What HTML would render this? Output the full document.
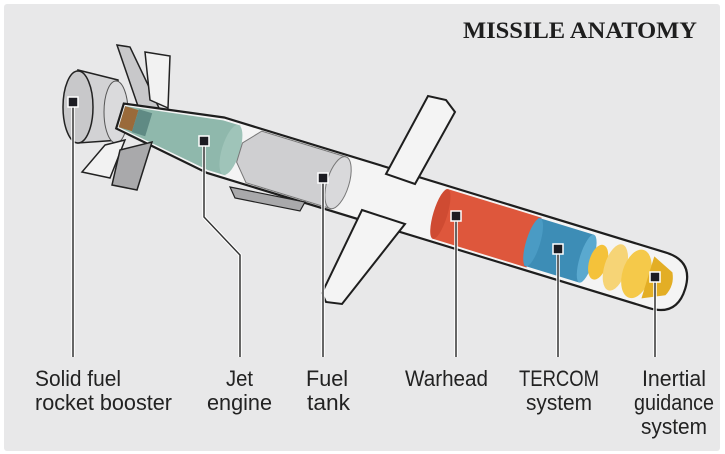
<!DOCTYPE html>
<html><head><meta charset="utf-8"><style>
html,body{margin:0;padding:0;background:#fff;}
svg{display:block;}
</style></head><body>
<svg width="725" height="454" viewBox="0 0 725 454" xmlns="http://www.w3.org/2000/svg">
<rect x="0" y="0" width="725" height="454" fill="#fff"/>
<rect x="4" y="4" width="716" height="447" rx="3" fill="#e8e8e9"/>
<text x="463" y="38" font-family="Liberation Serif, serif" font-weight="bold" font-size="23" fill="#1e1e1e" textLength="234" lengthAdjust="spacingAndGlyphs">MISSILE ANATOMY</text>

<!-- booster -->
<path d="M78,70 L118,80 L120,140 L78,143 Z" fill="#d2d2d4" stroke="#222" stroke-width="1.5"/>
<ellipse cx="78" cy="107" rx="15" ry="36" fill="#c8c8ca" stroke="#222" stroke-width="1.5"/>
<ellipse cx="116" cy="112" rx="12" ry="31" fill="#dadadc" stroke="#555" stroke-width="1"/>

<!-- top fins -->
<polygon points="117,45 130,47 160,110 140,112" fill="#c8c8ca" stroke="#222" stroke-width="1.5"/>
<polygon points="145,52 170,56 168,108 150,100" fill="#f2f2f2" stroke="#222" stroke-width="1.5"/>

<!-- body -->
<g transform="translate(120,116) rotate(17)">
  <path d="M0,-13 L100,-29 L562,-29 Q591,-29 591,0 Q591,29 562,29 L100,29 L0,13 Z" fill="#f4f4f4"/>
  <!-- jet engine -->
  <path d="M2,-11 L100,-26 L118,-26 L118,26 L100,26 L2,11 Z" fill="#8fb8ac"/>
  <ellipse cx="116" cy="0" rx="9" ry="26" fill="#9fc4b9"/>
  <rect x="2" y="-11" width="14" height="22" fill="#9a6a3a"/>
  <rect x="16" y="-12" width="14" height="24" fill="#5f8a84"/>
  <!-- fuel tank -->
  <path d="M125,-10 L140,-27 L228,-27 L228,27 L140,27 L125,10 Z" fill="#cfcfd1" stroke="#777" stroke-width="1"/>
  <ellipse cx="228" cy="0" rx="11" ry="27" fill="#d9d9db" stroke="#777" stroke-width="1"/>
  <!-- warhead -->
  <rect x="335" y="-26" width="98" height="52" fill="#de573c"/>
  <ellipse cx="335" cy="0" rx="7" ry="26" fill="#cf4b32"/>
  <!-- tercom -->
  <rect x="430" y="-25" width="58" height="50" fill="#3d8db6"/>
  <ellipse cx="432" cy="0" rx="7" ry="25" fill="#4a9bc4"/>
  <ellipse cx="488" cy="0" rx="7" ry="25" fill="#5aa9cf"/>
  <!-- guidance -->
  <ellipse cx="500" cy="0" rx="9" ry="18" fill="#f4c23a"/>
  <ellipse cx="518" cy="0" rx="11" ry="24" fill="#f6d476"/>
  <ellipse cx="540" cy="0" rx="14" ry="25" fill="#f5c94a"/>
  <path d="M552,-22 L574,-12 Q580,0 574,12 L552,22 Z" fill="#e3ae25"/>
  <path d="M0,-13 L100,-29 L562,-29 Q591,-29 591,0 Q591,29 562,29 L100,29 L0,13 Z" fill="none" stroke="#1e1e1e" stroke-width="2.2"/>
</g>

<!-- ventral scoop -->
<polygon points="230,187 305,202 300,211 235,198" fill="#a9a9ab" stroke="#222" stroke-width="1.2"/>
<!-- bottom fins -->
<polygon points="105,145 125,140 110,178 82,172" fill="#f2f2f2" stroke="#222" stroke-width="1.5"/>
<polygon points="120,150 152,142 137,190 112,185" fill="#a9a9ab" stroke="#222" stroke-width="1.5"/>

<!-- wings -->
<polygon points="386,174 428,96 446,100 455,112 415,184" fill="#f4f4f4" stroke="#1e1e1e" stroke-width="2"/>
<polygon points="362,210 405,224 342,304 326,302 322,293" fill="#f4f4f4" stroke="#1e1e1e" stroke-width="2"/>

<!-- callout lines -->
<g fill="none" stroke="#fff" stroke-width="3.5">
<path d="M73,102 V357"/><path d="M204,141 V217 L240,255 V357"/><path d="M323,178 V357"/>
<path d="M456,216 V357"/><path d="M558,249 V357"/><path d="M655,277 V357"/>
</g>
<g fill="none" stroke="#333" stroke-width="1.5">
<path d="M73,102 V357"/><path d="M204,141 V217 L240,255 V357"/><path d="M323,178 V357"/>
<path d="M456,216 V357"/><path d="M558,249 V357"/><path d="M655,277 V357"/>
</g>
<g fill="#1c1c22" stroke="#fff" stroke-width="1.5">
<rect x="68" y="97" width="10" height="10"/><rect x="199" y="136" width="10" height="10"/>
<rect x="318" y="173" width="10" height="10"/><rect x="451" y="211" width="10" height="10"/>
<rect x="553" y="244" width="10" height="10"/><rect x="650" y="272" width="10" height="10"/>
</g>

<g font-family="Liberation Sans, sans-serif" font-size="22" fill="#222">
<text x="35" y="386" textLength="86" lengthAdjust="spacingAndGlyphs">Solid fuel</text>
<text x="35" y="410" textLength="137" lengthAdjust="spacingAndGlyphs">rocket booster</text>
<text x="226" y="386" textLength="27" lengthAdjust="spacingAndGlyphs">Jet</text>
<text x="207" y="410" textLength="65" lengthAdjust="spacingAndGlyphs">engine</text>
<text x="306" y="386" textLength="42" lengthAdjust="spacingAndGlyphs">Fuel</text>
<text x="307" y="410" textLength="43" lengthAdjust="spacingAndGlyphs">tank</text>
<text x="405" y="386" textLength="83" lengthAdjust="spacingAndGlyphs">Warhead</text>
<text x="519" y="386" textLength="80" lengthAdjust="spacingAndGlyphs">TERCOM</text>
<text x="526" y="410" textLength="66" lengthAdjust="spacingAndGlyphs">system</text>
<text x="642" y="386" textLength="64" lengthAdjust="spacingAndGlyphs">Inertial</text>
<text x="634" y="410" textLength="80" lengthAdjust="spacingAndGlyphs">guidance</text>
<text x="641" y="434" textLength="66" lengthAdjust="spacingAndGlyphs">system</text>
</g>
</svg>
</body></html>
